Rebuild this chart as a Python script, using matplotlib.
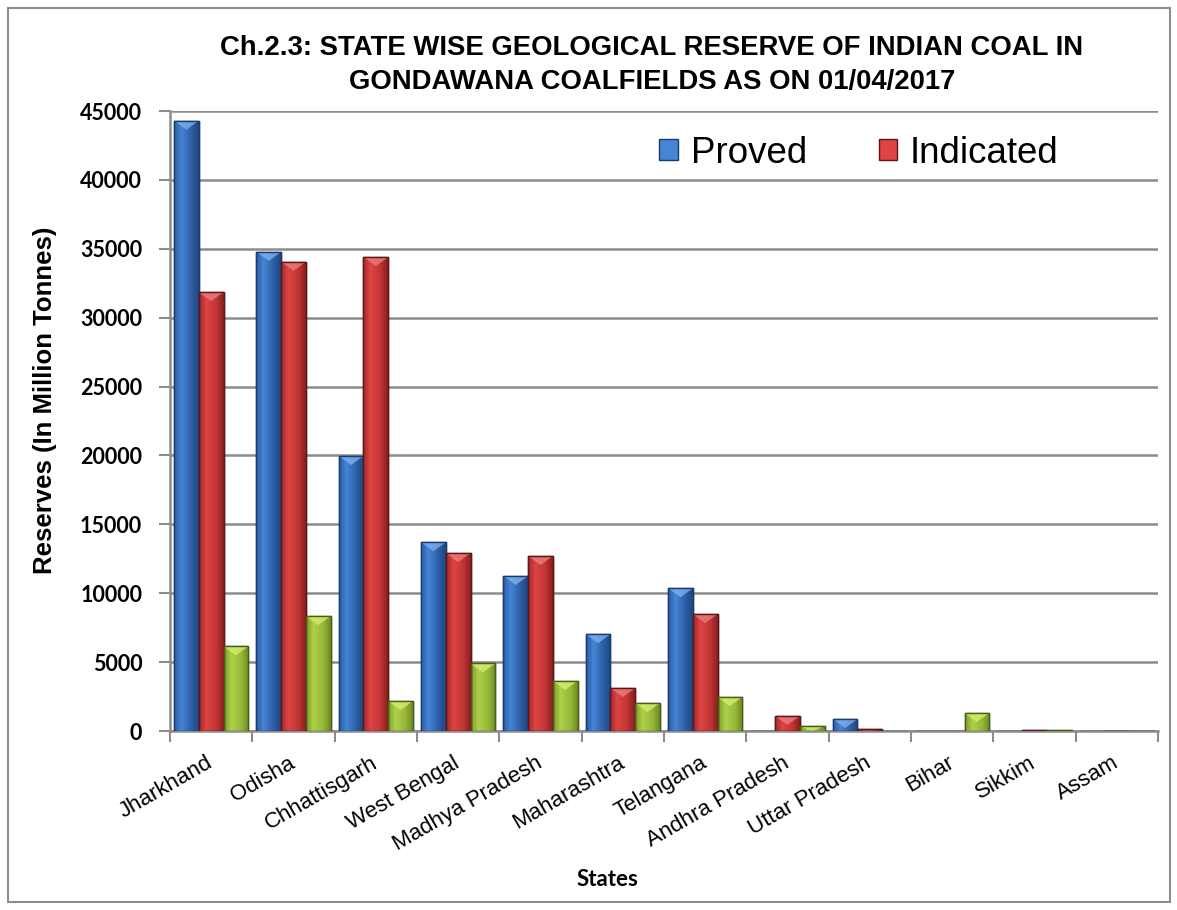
import matplotlib
matplotlib.use("Agg")
import matplotlib.pyplot as plt
import numpy as np
from matplotlib.patches import Rectangle, Polygon
from matplotlib.colors import LinearSegmentedColormap

states = ["Jharkhand", "Odisha", "Chhattisgarh", "West Bengal", "Madhya Pradesh",
          "Maharashtra", "Telangana", "Andhra Pradesh", "Uttar Pradesh", "Bihar",
          "Sikkim", "Assam"]
proved = [44300, 34770, 19960, 13700, 11250, 7030, 10360, 0, 870, 0, 0, 0]
indicated = [31850, 34050, 34400, 12910, 12700, 3120, 8480, 1090, 150, 0, 58, 4]
inferred = [6140, 8340, 2170, 4900, 3630, 2030, 2460, 360, 0, 1300, 43, 3]
yticks = [0, 5000, 10000, 15000, 20000, 25000, 30000, 35000, 40000, 45000]

W, H = 1177, 910
fig = plt.figure(figsize=(W / 100, H / 100), dpi=100)
fig.patches.append(Rectangle((8 / W, 8 / H), 1162 / W, 894 / H, transform=fig.transFigure,
                             fill=False, edgecolor="#8c8c8c", linewidth=1.5))

ax = fig.add_axes([170 / W, 1 - 731 / H, 988 / W, 620 / H])
x = np.arange(len(states))
bw = 0.30
series = [
    (proved, ("#2b5ca3", "#4585d6", "#2d5fa6", "#1f4680"), "#1c3b6e", "#7fb4f0", "Proved", -1),
    (indicated, ("#a52a2a", "#de4444", "#c23434", "#8a2020"), "#5e1616", "#f08080", "Indicated", 0),
    (inferred, ("#7f9c2a", "#aed04a", "#96b83a", "#6e8a22"), "#4a5e1c", "#d6f070", None, 1),
]
ax.set_xlim(-0.5, len(states) - 0.5)
ax.set_ylim(0, 45000)
px_per_val = 620 / 45000
bevel = 9 / px_per_val

for vals, grad, ec, light, lab, off in series:
    bars = ax.bar(x + off * bw, vals, bw, color=grad[1], edgecolor=ec, linewidth=1.0,
                  label=lab if lab else "_nolegend_", zorder=3)
    cmap = LinearSegmentedColormap.from_list("g", [(0, grad[0]), (0.3, grad[1]),
                                                   (0.7, grad[2]), (1, grad[3])])
    grad_img = np.linspace(0, 1, 64).reshape(1, -1)
    for b in bars:
        h = b.get_height()
        if h <= 0:
            continue
        x0, x1 = b.get_x(), b.get_x() + b.get_width()
        im = ax.imshow(grad_img, cmap=cmap, extent=[x0, x1, 0, h], aspect="auto",
                       zorder=3.1, interpolation="bilinear")
        im.set_clip_path(b)
        d = min(bevel, h)
        tri = Polygon([[x0, h], [x1, h], [(x0 + x1) / 2, h - d]], closed=True,
                      facecolor=light, edgecolor="none", alpha=0.75, zorder=3.2)
        ax.add_patch(tri)
        ax.add_patch(Rectangle((x0, 0), x1 - x0, h, fill=False, edgecolor=ec,
                               linewidth=1.0, zorder=3.3))

ax.set_xlim(-0.5, len(states) - 0.5)
ax.set_ylim(0, 45000)
ax.set_yticks(yticks)
ax.set_yticklabels([str(v) for v in yticks], fontsize=15.5, fontweight="bold",
                   family="Lato")
ax.yaxis.grid(True, color="#8c8c8c", linewidth=1.8, zorder=0)
ax.set_axisbelow(True)
for s in ["top", "right"]:
    ax.spines[s].set_visible(False)
for s in ["left", "bottom"]:
    ax.spines[s].set_color("#8c8c8c")
    ax.spines[s].set_linewidth(1.8)
ax.tick_params(axis="y", length=8, width=1.5, color="#8c8c8c", pad=12)
ax.set_xticks(np.arange(len(states) + 1) - 0.5, minor=False)
ax.set_xticklabels([])
ax.tick_params(axis="x", length=8, width=1.5, color="#8c8c8c", which="major")
ax.set_xticks(x, minor=True)
ax.set_xticklabels(states, minor=True, rotation=30, ha="right", va="center",
                   rotation_mode="anchor", fontsize=16, family="Liberation Sans")
ax.tick_params(axis="x", which="minor", length=0, pad=22)

ax.set_ylabel("Reserves (In Million Tonnes)", fontsize=18.5, fontweight="bold",
              family="Liberation Sans")
ax.yaxis.set_label_coords(-0.114, 0.534)
fig.text(607 / W, 1 - 880 / H, "States", ha="center", va="center", fontsize=16,
         fontweight="bold", family="Lato")
fig.text(652 / W, 1 - 48 / H, "Ch.2.3: STATE WISE GEOLOGICAL RESERVE OF INDIAN COAL IN",
         ha="center", va="center", fontsize=19.8, fontweight="bold", family="Liberation Sans")
fig.text(652 / W, 1 - 82 / H, "GONDAWANA COALFIELDS AS ON 01/04/2017",
         ha="center", va="center", fontsize=19.8, fontweight="bold", family="Liberation Sans")

leg = fig.legend(loc="center", bbox_to_anchor=(859 / W, 1 - 153 / H), ncol=2, frameon=False,
                 prop={"family": "Liberation Sans", "size": 26.5}, handlelength=0.5,
                 handleheight=0.5, handletextpad=0.35, columnspacing=1.95)

fig.savefig("out.png", dpi=100)
